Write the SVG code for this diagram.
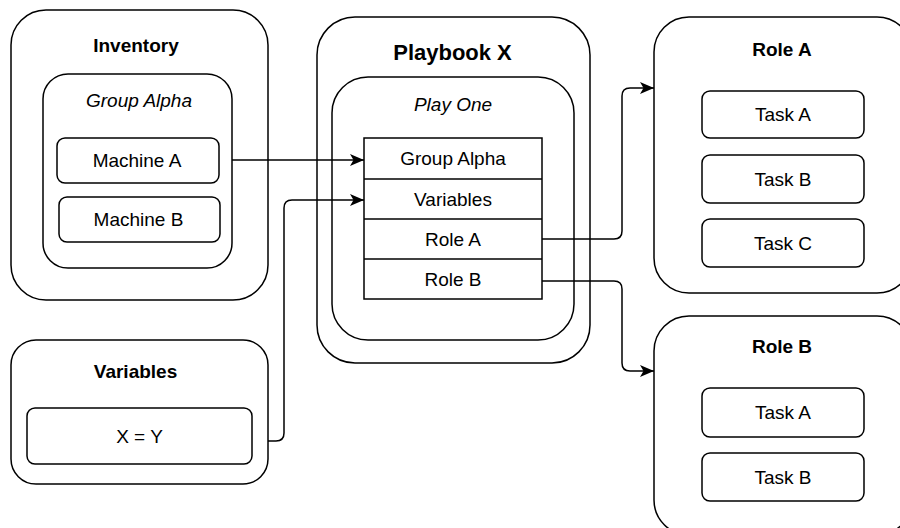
<svg xmlns="http://www.w3.org/2000/svg" width="900" height="528" viewBox="0 0 900 528">
  <style>
    .box { fill: #ffffff; stroke: #000000; stroke-width: 1.5; }
    .t { font-family: "Liberation Sans", Arial, Helvetica, sans-serif; font-size: 19px; fill: #000000; text-anchor: middle; }
    .b { font-weight: bold; }
    .i { font-style: italic; }
    .big { font-size: 22px; }
    .edge { fill: none; stroke: #000000; stroke-width: 1.5; }
  </style>
  <defs>
    <marker id="arrow" markerUnits="userSpaceOnUse" markerWidth="16" markerHeight="14" refX="14" refY="6" orient="auto">
      <path d="M0,0 L14,6 L0,12 L3.5,6 Z" fill="#000000"/>
    </marker>
  </defs>

  <!-- Inventory -->
  <g id="inventory">
    <rect class="box" x="11" y="10" width="257" height="290" rx="35"/>
    <text class="t b" x="136" y="52">Inventory</text>
    <g id="group-alpha">
      <rect class="box" x="43" y="74" width="189" height="194" rx="25"/>
      <text class="t i" x="139" y="107">Group Alpha</text>
    </g>
    <g id="machine-a">
      <rect class="box" x="57" y="138" width="162" height="45" rx="8"/>
      <text class="t" x="137" y="167">Machine A</text>
    </g>
    <g id="machine-b">
      <rect class="box" x="59" y="197" width="161" height="45" rx="8"/>
      <text class="t" x="138.5" y="226">Machine B</text>
    </g>
  </g>

  <!-- Variables -->
  <g id="variables">
    <rect class="box" x="11" y="340" width="257" height="144" rx="25"/>
    <text class="t b" x="135.5" y="378">Variables</text>
    <g id="var-xy">
      <rect class="box" x="27" y="408" width="225" height="56" rx="8"/>
      <text class="t" x="139.5" y="443">X = Y</text>
    </g>
  </g>

  <!-- Playbook X -->
  <g id="playbook-x">
    <rect class="box" x="317" y="17" width="273" height="346" rx="38"/>
    <text class="t b big" x="452.5" y="60">Playbook X</text>
    <g id="play-one">
      <rect class="box" x="332" y="77" width="242" height="263" rx="36"/>
      <text class="t i" x="453" y="111">Play One</text>
    </g>
    <g id="play-table">
      <rect class="box" x="364" y="138" width="178" height="161"/>
      <line class="edge" x1="364" y1="179" x2="542" y2="179"/>
      <line class="edge" x1="364" y1="219" x2="542" y2="219"/>
      <line class="edge" x1="364" y1="259" x2="542" y2="259"/>
      <text class="t" x="453" y="165">Group Alpha</text>
      <text class="t" x="453" y="206">Variables</text>
      <text class="t" x="453" y="246">Role A</text>
      <text class="t" x="453" y="286">Role B</text>
    </g>
  </g>

  <!-- Role A -->
  <g id="role-a">
    <rect class="box" x="654" y="17" width="258" height="276" rx="35"/>
    <text class="t b" x="782" y="56">Role A</text>
    <g id="role-a-task-a">
      <rect class="box" x="702" y="91" width="162" height="47" rx="8"/>
      <text class="t" x="783" y="121">Task A</text>
    </g>
    <g id="role-a-task-b">
      <rect class="box" x="702" y="155" width="162" height="48" rx="8"/>
      <text class="t" x="783" y="186">Task B</text>
    </g>
    <g id="role-a-task-c">
      <rect class="box" x="702" y="219" width="162" height="48" rx="8"/>
      <text class="t" x="783" y="250">Task C</text>
    </g>
  </g>

  <!-- Role B -->
  <g id="role-b">
    <rect class="box" x="654" y="316" width="258" height="219" rx="35"/>
    <text class="t b" x="782" y="353">Role B</text>
    <g id="role-b-task-a">
      <rect class="box" x="702" y="388" width="162" height="49" rx="8"/>
      <text class="t" x="783" y="419">Task A</text>
    </g>
    <g id="role-b-task-b">
      <rect class="box" x="702" y="453" width="162" height="48" rx="8"/>
      <text class="t" x="783" y="484">Task B</text>
    </g>
  </g>

  <!-- Connectors -->
  <g id="connectors">
    <path class="edge" d="M232,160 H364" marker-end="url(#arrow)"/>
    <path class="edge" d="M268,441 H276 Q284,441 284,433 V208 Q284,200 292,200 H364" marker-end="url(#arrow)"/>
    <path class="edge" d="M542,239 H614 Q622,239 622,231 V96 Q622,88 630,88 H654" marker-end="url(#arrow)"/>
    <path class="edge" d="M542,281 H614 Q622,281 622,289 V363 Q622,371 630,371 H654" marker-end="url(#arrow)"/>
  </g>
</svg>
